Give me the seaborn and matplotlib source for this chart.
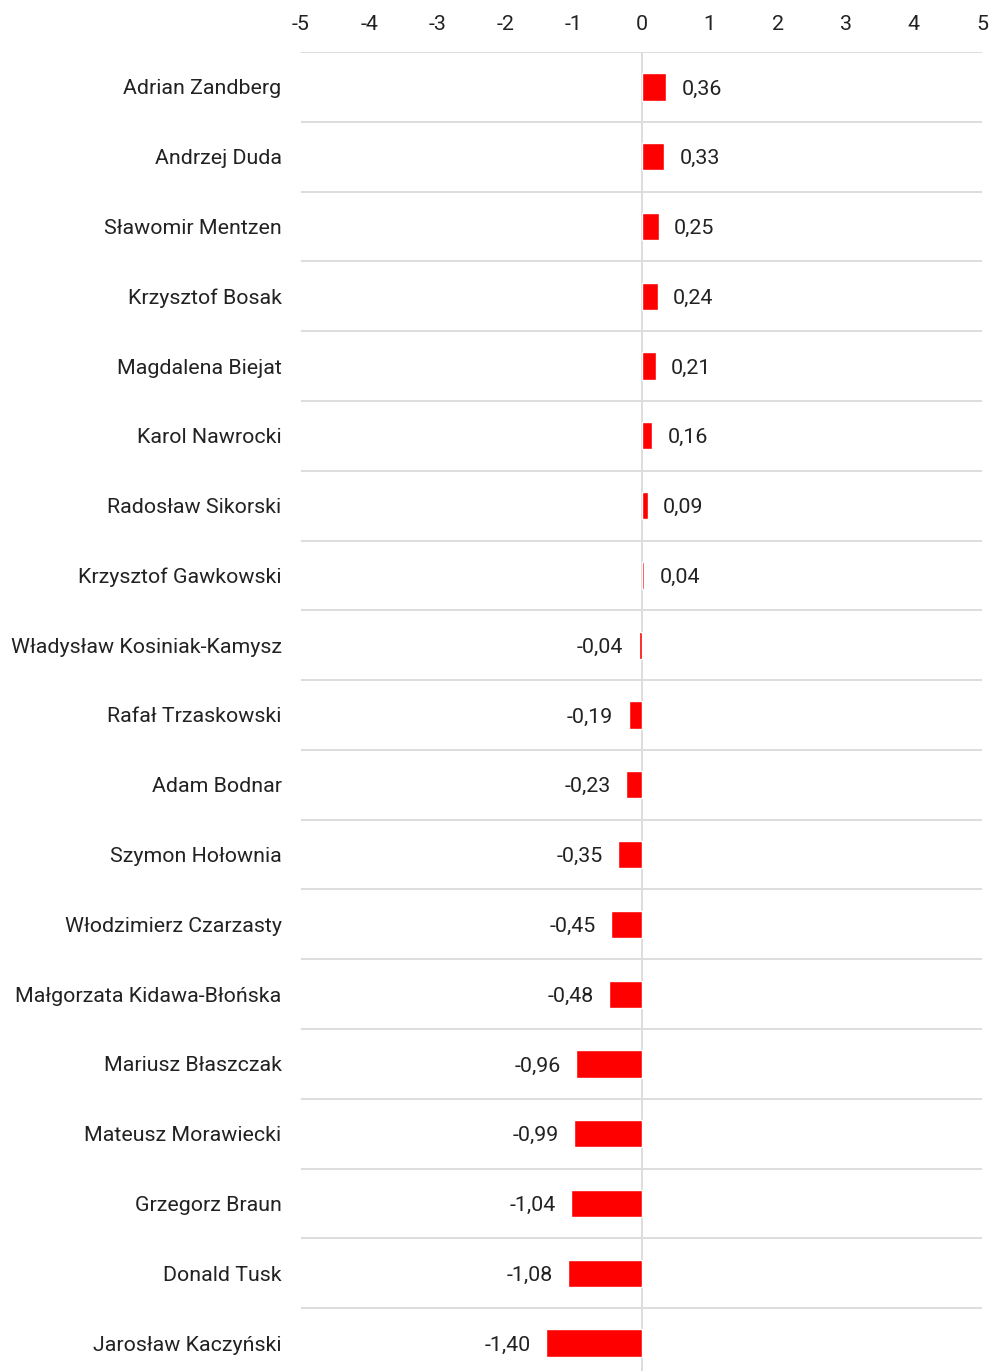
import matplotlib
matplotlib.use('Agg')
import matplotlib.pyplot as plt
import seaborn as sns
import pandas as pd

# ---------------- datos ---------------- #
nombres = [
    'Adrian Zandberg', 'Andrzej Duda', 'Sławomir Mentzen', 'Krzysztof Bosak',
    'Magdalena Biejat', 'Karol Nawrocki', 'Radosław Sikorski',
    'Krzysztof Gawkowski', 'Władysław Kosiniak-Kamysz', 'Rafał Trzaskowski',
    'Adam Bodnar', 'Szymon Hołownia', 'Włodzimierz Czarzasty',
    'Małgorzata Kidawa-Błońska', 'Mariusz Błaszczak', 'Mateusz Morawiecki',
    'Grzegorz Braun', 'Donald Tusk', 'Jarosław Kaczyński',
]
valores = [0.36, 0.33, 0.25, 0.24, 0.21, 0.16, 0.09, 0.04, -0.04, -0.19,
           -0.23, -0.35, -0.45, -0.48, -0.96, -0.99, -1.04, -1.08, -1.40]
ticks_x = [-5, -4, -3, -2, -1, 0, 1, 2, 3, 4, 5]

df = pd.DataFrame({'nombre': nombres, 'valor': valores})

# ---------------- grafico ---------------- #
sns.set_style('white')
plt.rcParams['font.family'] = ['Roboto', 'DejaVu Sans']

fig = plt.figure(figsize=(9.91, 13.71), dpi=100)
ax = fig.add_axes([301 / 991, 0, 681 / 991, 1 - 52 / 1371])

gris = '#dddddd'
for i in range(-1, len(nombres) - 1):
    ax.axhline(i + 0.5, color=gris, lw=1.4, zorder=0)
ax.axvline(0, color=gris, lw=1.4, zorder=0)

sns.barplot(data=df, x='valor', y='nombre', orient='h', color='#ff0000',
            saturation=1, width=0.39, ax=ax, zorder=2)

fs = 15.4
for i, v in enumerate(valores):
    txt = f'{v:.2f}'.replace('.', ',')
    if v >= 0:
        ax.annotate(txt, (v, i), xytext=(11, 0), textcoords='offset points',
                    ha='left', va='center_baseline', fontsize=fs, color='#222222')
    else:
        ax.annotate(txt, (v, i), xytext=(-11, 0), textcoords='offset points',
                    ha='right', va='center_baseline', fontsize=fs, color='#222222')

ax.set_xlim(-5, 5)
ax.set_ylim(18.4, -0.5)
ax.set_xticks(ticks_x)
ax.set_xticklabels([str(t) for t in ticks_x])
ax.xaxis.tick_top()
ax.tick_params(axis='x', length=0, pad=13, labelsize=fs, labelcolor='#222222')
ax.tick_params(axis='y', length=0, pad=14, labelsize=fs, labelcolor='#222222')
ax.set_xlabel('')
ax.set_ylabel('')
for s in ax.spines.values():
    s.set_visible(False)

plt.savefig('out.png', dpi=100)
